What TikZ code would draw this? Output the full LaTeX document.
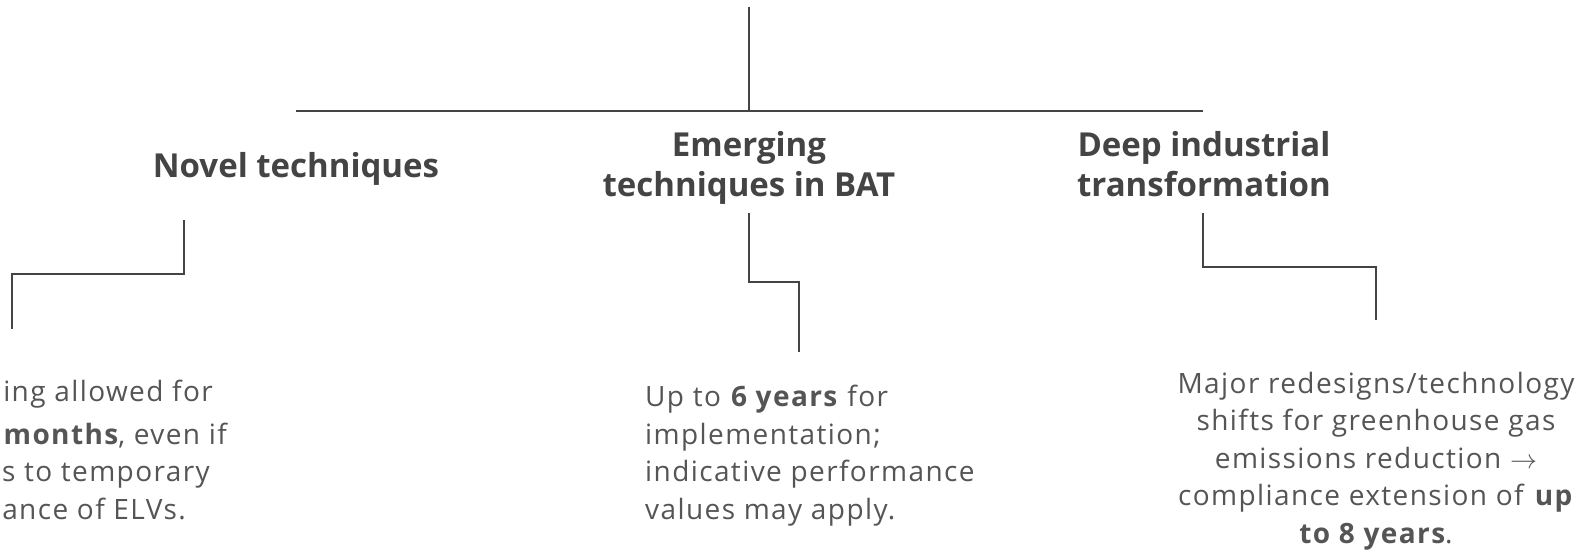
\documentclass[tikz,border=0pt]{standalone}
\usepackage{graphicx}
\usepackage{fontspec}
\setmainfont{Open Sans}
\newfontfamily\bodyfont{Open Sans}[LetterSpace=5]
\definecolor{titlecol}{HTML}{444444}
\definecolor{bodycol}{HTML}{555555}
\definecolor{linecol}{HTML}{444444}
\newcommand{\myarrow}{\resizebox{27pt}{!}{$\rightarrow$}}
\begin{document}
\begin{tikzpicture}[x=1pt,y=-1pt,
  title/.style={text=titlecol,font=\fontsize{33}{40}\selectfont\bfseries,align=center,inner sep=0pt},
  body/.style={text=bodycol,font=\bodyfont\fontsize{28}{37.5}\selectfont,inner sep=0pt},
  wire/.style={draw=linecol,line width=1.5pt}]
\useasboundingbox[fill=white] (0,0) rectangle (1585,551);
% top bus
\coordinate (top) at (749,7);
\coordinate (hub) at (749,111);
\coordinate (busL) at (296,111);
\coordinate (busR) at (1203,111);
\draw[wire] (top) -- (hub);
\draw[wire] (busL) -- (busR);
% titles
\node[title] (novel) at (296,169) {Novel techniques};
\node[title] (emerg) at (749,168) {Emerging\\techniques in BAT};
\node[title] (deep) at (1204,164) {Deep industrial\\transformation};
% connector points
\coordinate (n0) at (184,220); \coordinate (n1) at (184,274); \coordinate (n2) at (12,274); \coordinate (n3) at (12,329);
\coordinate (e0) at (749,213); \coordinate (e1) at (749,282); \coordinate (e2) at (799,282); \coordinate (e3) at (799,352);
\coordinate (d0) at (1203,213); \coordinate (d1) at (1203,267); \coordinate (d2) at (1376,267); \coordinate (d3) at (1376,320);
\draw[wire] (n0) -- (n1) -- (n2) -- (n3);
\draw[wire] (e0) -- (e1) -- (e2) -- (e3);
\draw[wire] (d0) -- (d1) -- (d2) -- (d3);
% novel body (cut off at left edge)
\node[body,anchor=mid east] (nb1) at (213,399) {ing allowed for};
\node[body,anchor=mid east] (nb2) at (227,442) {\textbf{months}, even if};
\node[body,anchor=mid east] (nb3) at (210,479) {s to temporary};
\node[body,anchor=mid east] (nb4) at (186,517) {ance of ELVs.};
% emerging body
\node[body,align=left,anchor=north west] (eb) at (645,385) {Up to \textbf{6 years} for\\implementation;\\indicative performance\\values may apply.};
% deep body
\node[body,align=center,anchor=north] (db) at (1376,372) {Major redesigns/technology\\shifts for greenhouse gas\\emissions reduction \myarrow\\compliance extension of \textbf{up}\\\textbf{to 8 years}.};
\end{tikzpicture}
\end{document}
